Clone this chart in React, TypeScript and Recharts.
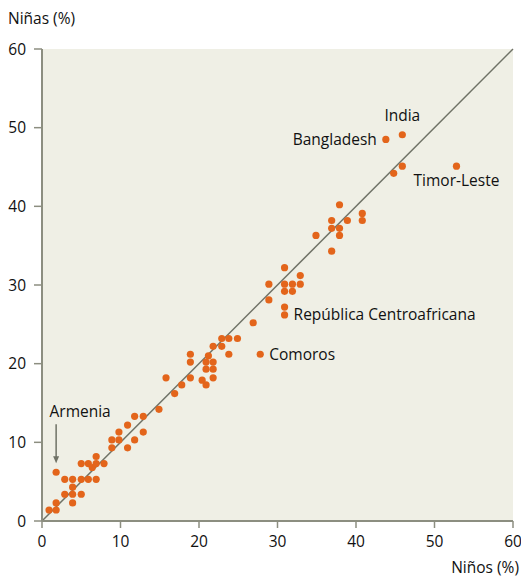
import { ScatterChart, Scatter, XAxis, YAxis, CartesianGrid, ReferenceLine, ReferenceDot } from 'recharts'

// % of boys (x) and girls (y) per country
const ninos = [0.9, 1.8, 1.8, 2.9, 3.9, 3.9, 5.0, 3.9, 2.9, 3.9, 5.0, 5.9, 6.9, 1.8, 5.0, 5.9, 6.4, 6.9, 6.9, 7.9,
  8.9, 8.9, 9.8, 10.9, 9.8, 11.8, 10.9, 11.8, 12.9, 12.9, 14.9, 15.8, 16.9, 17.8, 18.9, 18.9, 18.9, 20.4, 20.9, 20.9,
  20.9, 21.2, 21.8, 21.8, 21.8, 21.8, 22.9, 22.9, 23.8, 23.8, 24.9, 26.9, 27.8, 28.9, 28.9, 30.9, 31.9, 30.9, 31.9, 30.9,
  30.9, 30.9, 32.9, 32.9, 34.9, 36.9, 36.9, 36.9, 37.9, 37.9, 37.9, 38.9, 40.8, 40.8, 44.8, 45.9, 43.8, 45.9, 52.8]
const ninas = [1.4, 1.4, 2.3, 3.4, 3.4, 2.3, 3.4, 4.3, 5.3, 5.3, 5.3, 5.3, 5.3, 6.2, 7.3, 7.3, 6.8, 7.3, 8.2, 7.3,
  9.3, 10.3, 10.3, 9.3, 11.3, 10.3, 12.2, 13.3, 13.3, 11.3, 14.2, 18.2, 16.2, 17.3, 18.2, 20.2, 21.2, 17.9, 17.3, 19.3,
  20.2, 21.0, 20.2, 19.3, 18.2, 22.2, 22.2, 23.2, 23.2, 21.2, 23.2, 25.2, 21.2, 30.1, 28.1, 30.1, 30.1, 29.2, 29.2, 27.2,
  26.2, 32.2, 31.2, 30.1, 36.3, 38.2, 37.2, 34.3, 40.2, 37.2, 36.3, 38.2, 39.1, 38.2, 44.2, 45.1, 48.5, 49.1, 45.1]

const ticks = [0, 10, 20, 30, 40, 50, 60]

const etiquetas = [
  { pais: 'India', x: 45.9, y: 49.1, pos: 'top', off: 14 },
  { pais: 'Bangladesh', x: 43.8, y: 48.5, pos: 'left', off: 9 },
  { pais: 'Timor-Leste', x: 52.8, y: 45.1, pos: 'bottom', off: 9 },
  { pais: 'República Centroafricana', x: 30.9, y: 26.2, pos: 'right', off: 9 },
  { pais: 'Comoros', x: 27.8, y: 21.2, pos: 'right', off: 9 },
]
const armenia = { pais: 'Armenia', x: 1.8, y: 6.2 }

const data = ninos.map((x, i) => ({ x, y: ninas[i] }))

const AXIS = '#8c8e80'
const DOT = '#e3651b'
const TXT = '#111'
const FONT = '"Open Sans", sans-serif'
const FS = 15.5

const Dot = (p: any) => <circle cx={p.cx} cy={p.cy} r={3.6} fill={DOT} />

const ArmeniaLabel = (p: any) => {
  const vb = p.viewBox || {}
  const cx = vb.x + (vb.width || 0) / 2
  const cy = vb.y + (vb.height || 0) / 2
  return (
    <g>
      <text x={cx + 24} y={cy - 55} textAnchor="middle" fontSize={FS} fontFamily={FONT} fill={TXT}>{armenia.pais}</text>
      <line x1={cx} y1={cy - 48} x2={cx} y2={cy - 12} stroke="#6f7266" strokeWidth={1.5} />
      <path d={`M${cx - 3},${cy - 16} L${cx + 3},${cy - 16} L${cx},${cy - 9} Z`} fill="#6f7266" />
    </g>
  )
}

export default function App() {
  return (
    <div style={{ position: 'relative', width: 521, height: 577, background: '#fff', fontFamily: FONT }}>
      <style>{'body{margin:0}'}</style>
      <div style={{ position: 'absolute', left: 8, top: 8, fontSize: FS, color: TXT, lineHeight: '20px' }}>Niñas (%)</div>
      <div style={{ position: 'absolute', right: 2, top: 557, fontSize: FS, color: TXT, lineHeight: '20px' }}>Niños (%)</div>
      <ScatterChart width={521} height={577} margin={{ top: 49, right: 8, bottom: 26, left: 0 }}>
        <CartesianGrid horizontal={false} vertical={false} fill="#efefe5" stroke="none" />
        <XAxis type="number" dataKey="x" domain={[0, 60]} ticks={ticks} tickSize={7} tickMargin={8} height={30}
          axisLine={{ stroke: AXIS, strokeWidth: 2 }} tickLine={{ stroke: AXIS, strokeWidth: 1.5 }}
          tick={{ fill: TXT, fontSize: FS, fontFamily: FONT }} />
        <YAxis type="number" dataKey="y" domain={[0, 60]} ticks={ticks} width={42} tickSize={8} tickMargin={8}
          axisLine={{ stroke: AXIS, strokeWidth: 2 }} tickLine={{ stroke: AXIS, strokeWidth: 1.5 }}
          tick={{ fill: TXT, fontSize: FS, fontFamily: FONT }} />
        <ReferenceLine segment={[{ x: 0, y: 0 }, { x: 60, y: 60 }]} stroke="#6f7266" strokeWidth={1.5} />
        <Scatter data={data} shape={Dot} isAnimationActive={false} />
        {etiquetas.map(e => (
          <ReferenceDot key={e.pais} x={e.x} y={e.y} r={0} stroke="none" fill="none"
            label={{ value: e.pais, position: e.pos as any, offset: e.off, fontSize: FS, fontFamily: FONT, fill: TXT }} />
        ))}
        <ReferenceDot x={armenia.x} y={armenia.y} r={0} stroke="none" fill="none" label={<ArmeniaLabel />} />
      </ScatterChart>
    </div>
  )
}
